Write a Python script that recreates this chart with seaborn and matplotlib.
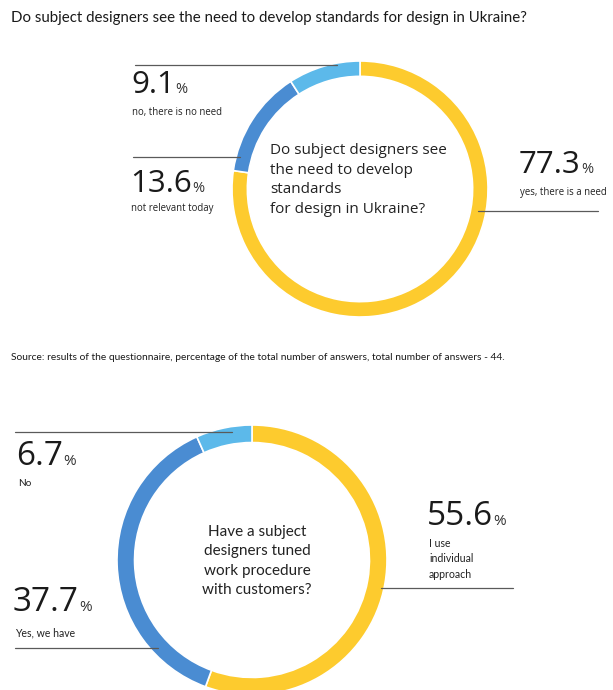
import matplotlib
matplotlib.use("Agg")
import matplotlib.pyplot as plt
import seaborn as sns

sns.set_theme(style="white")
plt.rcParams['font.family'] = ['Open Sans', 'DejaVu Sans']

# ---- data ----
title_text = "Do subject designers see the need to develop standards for design in Ukraine?"
source_text = ("Source: results of the questionnaire, percentage of the total number of answers, "
               "total number of answers - 44.")

q1_center = "Do subject designers see\nthe need to develop\nstandards\nfor design in Ukraine?"
q1_labels = ["yes, there is a need", "not relevant today", "no, there is no need"]
q1_values = [77.3, 13.6, 9.1]

q2_center = "Have a subject\ndesigners tuned\nwork procedure\nwith customers?"
q2_labels = ["I use\nindividual\napproach", "Yes, we have", "No"]
q2_values = [55.6, 37.7, 6.7]

colors = ["#FDCB2E", "#4A8CD2", "#5CB9EA"]

W, H = 613, 690
fig = plt.figure(figsize=(W / 100, H / 100), dpi=100)
fig.patch.set_facecolor("white")


def donut(cx, cy, r, values, width):
    ax = fig.add_axes([(cx - r) / W, (H - cy - r) / H, 2 * r / W, 2 * r / H])
    ax.pie(values, colors=colors, startangle=90, counterclock=False, radius=1,
           wedgeprops=dict(width=width, edgecolor="white", linewidth=1.2))
    ax.set_aspect("auto")
    ax.set_xlim(-1, 1)
    ax.set_ylim(-1, 1)
    ax.axis("off")
    return ax


donut(360, 189, 128, q1_values, 0.12)
donut(252, 560, 135, q2_values, 0.13)

# overlay axes in pixel coordinates for labels and leader lines
ov = fig.add_axes([0, 0, 1, 1], zorder=5)
ov.set_xlim(0, W)
ov.set_ylim(H, 0)
ov.axis("off")
ov.patch.set_alpha(0)

LINE = dict(color="#5a5a5a", lw=0.9)


def big_number(x, baseline, value, size=22.5, pct=10.5):
    t = ov.text(x, baseline, f"{value}", fontsize=size, color="#1a1a1a", ha="left",
                va="baseline")
    ov.annotate("%", xy=(1, baseline), xycoords=(t, "data"), xytext=(0.2, 0),
                textcoords="offset points", fontsize=pct, color="#333333", ha="left",
                va="baseline")
    return t


# title and source
ov.text(11, 18, title_text, fontsize=10.8, color="#1a1a1a", va="center", ha="left",
        family=["Lato", "DejaVu Sans"])
ov.text(11, 357, source_text, fontsize=7.4, color="#1a1a1a", va="center", ha="left",
        family=["Lato", "DejaVu Sans"])

# ---- top donut labels ----
ov.text(270, 143, q1_center, fontsize=11, color="#222222", ha="left", va="top",
        linespacing=1.42)

ov.plot([135, 337], [65, 65], **LINE)
big_number(131, 93, q1_values[2])
ov.text(132, 113, q1_labels[2], fontsize=6.9, color="#222222", ha="left", va="center")

ov.plot([133, 240], [157, 157], **LINE)
big_number(130, 192, q1_values[1])
ov.text(131, 209, q1_labels[1], fontsize=6.9, color="#222222", ha="left", va="center")

big_number(519, 173, q1_values[0])
ov.text(520, 193, q1_labels[0], fontsize=6.9, color="#222222", ha="left", va="center")
ov.plot([478, 598], [211, 211], **LINE)

# ---- bottom donut labels ----
ov.text(257, 561, q2_center, fontsize=11, color="#222222", ha="center", va="center",
        linespacing=1.48, family=["Lato", "DejaVu Sans"])

ov.plot([15, 232], [432, 432], **LINE)
big_number(16, 465, q2_values[2], size=24, pct=11)
ov.text(18, 483, q2_labels[2], fontsize=7.2, color="#222222", ha="left", va="center",
        family=["Lato", "DejaVu Sans"])

big_number(13, 611, q2_values[1], size=24, pct=11)
ov.text(15, 633, q2_labels[1], fontsize=7.6, color="#222222", ha="left", va="center",
        family=["Lato", "DejaVu Sans"])
ov.plot([15, 158], [648, 648], **LINE)

big_number(427, 525, q2_values[0], size=24, pct=11)
ov.text(429, 559, q2_labels[0], fontsize=7.6, color="#222222", ha="left", va="center",
        linespacing=1.45, family=["Lato", "DejaVu Sans"])
ov.plot([381, 513], [588, 588], **LINE)

fig.savefig("out.png", dpi=100, facecolor="white")
